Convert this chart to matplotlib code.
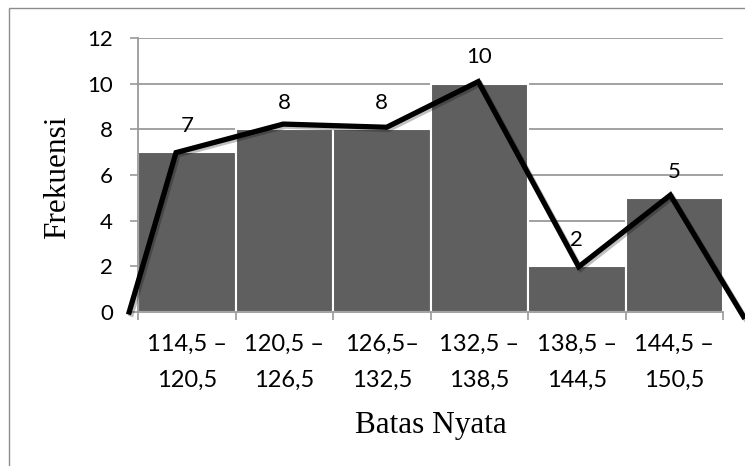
import matplotlib
matplotlib.use("Agg")
import matplotlib.pyplot as plt
import matplotlib.patheffects as pe
from matplotlib.patches import Rectangle

# class intervals and frequencies
classes = ["114,5 –\n120,5", "120,5 –\n126,5", "126,5–\n132,5",
           "132,5 –\n138,5", "138,5 –\n144,5", "144,5 –\n150,5"]
freq = [7, 8, 8, 10, 2, 5]

# hand drawn frequency polygon (x in class units, 0 = left edge of first bar)
poly_x = [-0.09, 0.39, 1.49, 2.55, 3.49, 4.52, 5.46, 6.21]
poly_y = [0, 6.98, 8.23, 8.09, 10.09, 1.98, 5.12, -0.2]

label_font = "Lato"
serif_font = "Liberation Serif"

fig = plt.figure(figsize=(7.45, 4.66), dpi=100)
ax = fig.add_axes([138 / 745, 1 - 312 / 466, (723 - 138) / 745, (312 - 38) / 466])

# outer chart frame
fig.add_artist(Rectangle((9 / 745, -0.1), 1.2, 1.1 - 8 / 466, transform=fig.transFigure,
                         fill=False, edgecolor="#8c8c8c", linewidth=1.0))

centers = [i + 0.5 for i in range(len(freq))]
ax.bar(centers, freq, width=1.0, color="#5f5f5f", edgecolor="white",
       linewidth=1.5, zorder=2)

ax.plot(poly_x, poly_y, color="black", linewidth=3.8, solid_joinstyle="miter",
        clip_on=False, zorder=4,
        path_effects=[pe.SimpleLineShadow(offset=(1.5, -1.5), alpha=0.25), pe.Normal()])

for c, v in zip(centers, freq):
    ax.text(c, v + 1.15, str(v), ha="center", va="center", fontsize=16,
            fontfamily=label_font, color="black", zorder=5)

ax.set_xlim(0, 6)
ax.set_ylim(0, 12)
ax.set_yticks(range(0, 13, 2))
ax.yaxis.grid(True, color="#9a9a9a", linewidth=1.3)
ax.set_axisbelow(True)

ax.set_xticks(range(0, 7))
ax.set_xticklabels([])
ax.set_xticks(centers, minor=True)
ax.set_xticklabels(classes, minor=True, fontsize=17, fontfamily=label_font,
                   linespacing=1.85)
ax.tick_params(axis="x", which="major", length=6, width=1.2, color="#9a9a9a",
               direction="out")
ax.tick_params(axis="x", which="minor", length=0, pad=16)
ax.tick_params(axis="y", length=6, width=1.2, color="#9a9a9a", pad=12)
for t in ax.get_yticklabels():
    t.set_fontfamily(label_font)
    t.set_fontsize(16)

for s in ["top", "right"]:
    ax.spines[s].set_visible(False)
for s in ["left", "bottom"]:
    ax.spines[s].set_color("#9a9a9a")
    ax.spines[s].set_linewidth(1.3)

fig.text(58 / 745, 1 - 177 / 466, "Frekuensi", rotation=90, ha="center", va="center",
         fontsize=22.5, fontfamily=serif_font)
fig.text(431 / 745, 1 - 433 / 466, "Batas Nyata", ha="center", va="baseline",
         fontsize=22.5, fontfamily=serif_font)

fig.savefig("out.png", dpi=100)
